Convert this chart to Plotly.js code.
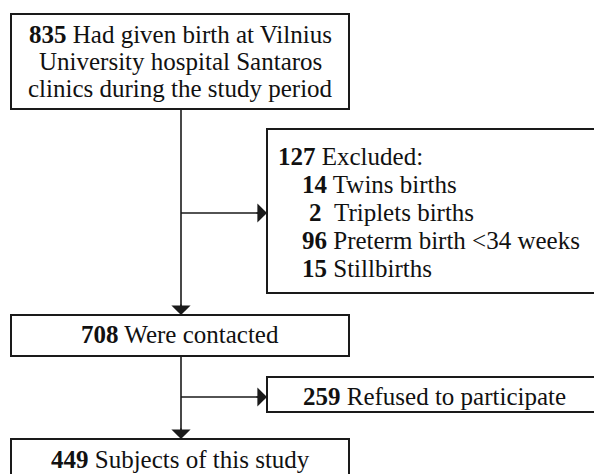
<!DOCTYPE html>
<html>
<head>
<meta charset="utf-8">
<script src="https://cdn.plot.ly/plotly-3.0.1.min.js"></script>
<style>html,body{margin:0;padding:0;background:#fff;}#chart{width:594px;height:474px;}</style>
</head>
<body>
<div id="chart"></div>
<script>
// ---- data ----
const stageCounts = [835, 708, 449];
const stageLabels = ["Had given birth at Vilnius", "Were contacted", "Subjects of this study"];
const firstStageLines = ["Had given birth at Vilnius", "University hospital Santaros", "clinics during the study period"];
const excludedTotal = 127;
const excludedTitle = "Excluded:";
const excludedCounts = [14, 2, 96, 15];
const excludedReasons = ["Twins births", "Triplets births", "Preterm birth <34 weeks", "Stillbirths"];
const refusedCount = 259;
const refusedLabel = "Refused to participate";

// ---- layout helpers ----
const FONT = {family: "Liberation Serif, Times New Roman, serif", size: 25, color: "#111"};
const LINE = {color: "#1a1a1a", width: 2};
const shapes = [];
const annotations = [];

function box(x0, y0, x1, y1) {
  shapes.push({type: "rect", xref: "x", yref: "y", x0, y0, x1, y1, line: LINE, fillcolor: "rgba(0,0,0,0)"});
}
function text(t, x, y, xanchor) {
  annotations.push({text: t, x, y, xref: "x", yref: "y", xanchor: xanchor || "center", yanchor: "middle",
    showarrow: false, font: FONT, borderpad: 0, borderwidth: 0});
}
function arrow(x0, y0, x1, y1) {
  shapes.push({type: "line", xref: "x", yref: "y", x0, y0, x1, y1, line: {color: LINE.color, width: 1.6}});
  annotations.push({text: "", x: x1, y: y1, ax: x1 - (x1 - x0 ? Math.sign(x1 - x0) * 12 : 0),
    ay: y1 - (y1 - y0 ? Math.sign(y1 - y0) * 12 : 0), xref: "x", yref: "y", axref: "x", ayref: "y",
    showarrow: true, arrowhead: 1, arrowsize: 2, arrowwidth: 1.6, arrowcolor: LINE.color, standoff: 0});
}

// boxes
box(11, 14, 349, 109);
box(267, 129, 600, 293);
box(11, 315, 349, 356);
box(267, 377, 600, 412);
box(11, 439, 349, 480);

// arrows
arrow(181, 109, 181, 315);
arrow(181, 213, 267, 213);
arrow(181, 356, 181, 439);
arrow(181, 397, 267, 397);

// stage 1 text (three lines)
const l1y = [34, 61, 88];
firstStageLines.forEach((ln, i) => {
  text(i === 0 ? "<b>" + stageCounts[0] + "</b> " + ln : ln, 180, l1y[i]);
});
// stage 2, 3
text("<b>" + stageCounts[1] + "</b> " + stageLabels[1], 180, 334);
text("<b>" + stageCounts[2] + "</b> " + stageLabels[2], 180, 459);

// excluded box
text("<b>" + excludedTotal + "</b> " + excludedTitle, 278, 156, "left");
const exY = [184, 212, 240, 268];
excludedCounts.forEach((c, i) => {
  const isSingle = String(c).length === 1;
  text("<b>" + c + "</b>" + (isSingle ? "&nbsp;&nbsp;" : " ") + excludedReasons[i], isSingle ? 309 : 302, exY[i], "left");
});

// refused box
text("<b>" + refusedCount + "</b> " + refusedLabel, 434, 396);

const layout = {
  width: 594, height: 474,
  margin: {l: 0, r: 0, t: 0, b: 0},
  paper_bgcolor: "#fff", plot_bgcolor: "#fff",
  xaxis: {range: [0, 594], visible: false, fixedrange: true},
  yaxis: {range: [474, 0], visible: false, fixedrange: true},
  showlegend: false,
  shapes, annotations
};
Plotly.newPlot("chart", [], layout, {staticPlot: true});
</script>
</body>
</html>
